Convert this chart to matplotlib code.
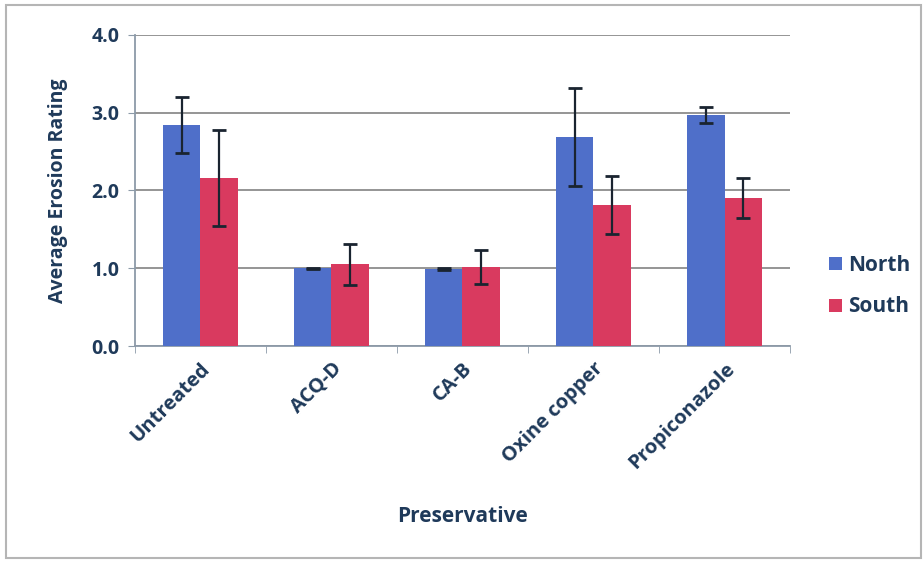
import matplotlib.pyplot as plt
import numpy as np
from matplotlib.patches import Rectangle

categories = ['Untreated', 'ACQ-D', 'CA-B', 'Oxine copper', 'Propiconazole']
north = [2.84, 1.00, 0.99, 2.69, 2.97]
north_err = [0.36, 0.01, 0.01, 0.63, 0.10]
south = [2.16, 1.05, 1.02, 1.81, 1.90]
south_err = [0.62, 0.26, 0.22, 0.37, 0.26]

text_color = '#1F3A5A'
plt.rcParams['font.family'] = ['Open Sans', 'DejaVu Sans']

fig = plt.figure(figsize=(9.24, 5.61), dpi=100)
# outer chart border
border = Rectangle((0.007, 0.006), 0.99, 0.985, transform=fig.transFigure,
                   facecolor='none', edgecolor='#B5B5B5', lw=1.5, zorder=10)
fig.patches.append(border)

ax = fig.add_axes([0.146, 0.383, 0.709, 0.555])
x = np.arange(len(categories))
w = 0.285
err_kw = dict(ecolor='#1A2430', elinewidth=1.6, capsize=5, capthick=2)
ax.bar(x - w / 2, north, w, yerr=north_err, color='#4F6FC9', label='North', error_kw=err_kw, zorder=3)
ax.bar(x + w / 2, south, w, yerr=south_err, color='#D93A5F', label='South', error_kw=err_kw, zorder=3)

ax.set_xlim(-0.5, len(categories) - 0.5)
ax.set_ylim(0, 4)
ax.set_yticks(np.arange(0, 4.01, 1.0))
ax.set_yticklabels([f'{v:.1f}' for v in np.arange(0, 4.01, 1.0)])
ax.yaxis.grid(True, color='#8C8C8C', lw=1.3, zorder=0)
ax.set_axisbelow(True)

ax.set_xticks(x)
ax.set_xticklabels(categories, rotation=45, ha='right', rotation_mode='anchor')
ax.set_xticks(np.arange(-0.5, len(categories), 1.0), minor=True)
ax.tick_params(axis='x', which='major', length=0, pad=9)
ax.tick_params(axis='x', which='minor', length=5, color='#8C9AA8')
ax.tick_params(axis='y', length=5, color='#8C9AA8', pad=6)
for lab in ax.get_xticklabels():
    lab.set_fontsize(14.5)
    lab.set_fontweight('bold')
    lab.set_color(text_color)
for lab in ax.get_yticklabels():
    lab.set_fontsize(14)
    lab.set_fontweight('bold')
    lab.set_color(text_color)

for side in ['top', 'right']:
    ax.spines[side].set_visible(False)
ax.spines['left'].set_color('#8C9AA8')
ax.spines['bottom'].set_color('#8C9AA8')
ax.spines['left'].set_linewidth(1.3)
ax.spines['bottom'].set_linewidth(1.3)

ax.set_ylabel('Average Erosion Rating', fontsize=14, fontweight='bold', color=text_color, labelpad=17)
ax.set_xlabel('Preservative', fontsize=15, fontweight='bold', color=text_color, labelpad=24)

leg = ax.legend(loc='center left', bbox_to_anchor=(1.031, 0.193), frameon=False, fontsize=15,
                handlelength=0.6, handleheight=0.6, handletextpad=0.3, labelspacing=1.0)
for t in leg.get_texts():
    t.set_color(text_color)
    t.set_fontweight('bold')

fig.savefig('out.png', dpi=100)
